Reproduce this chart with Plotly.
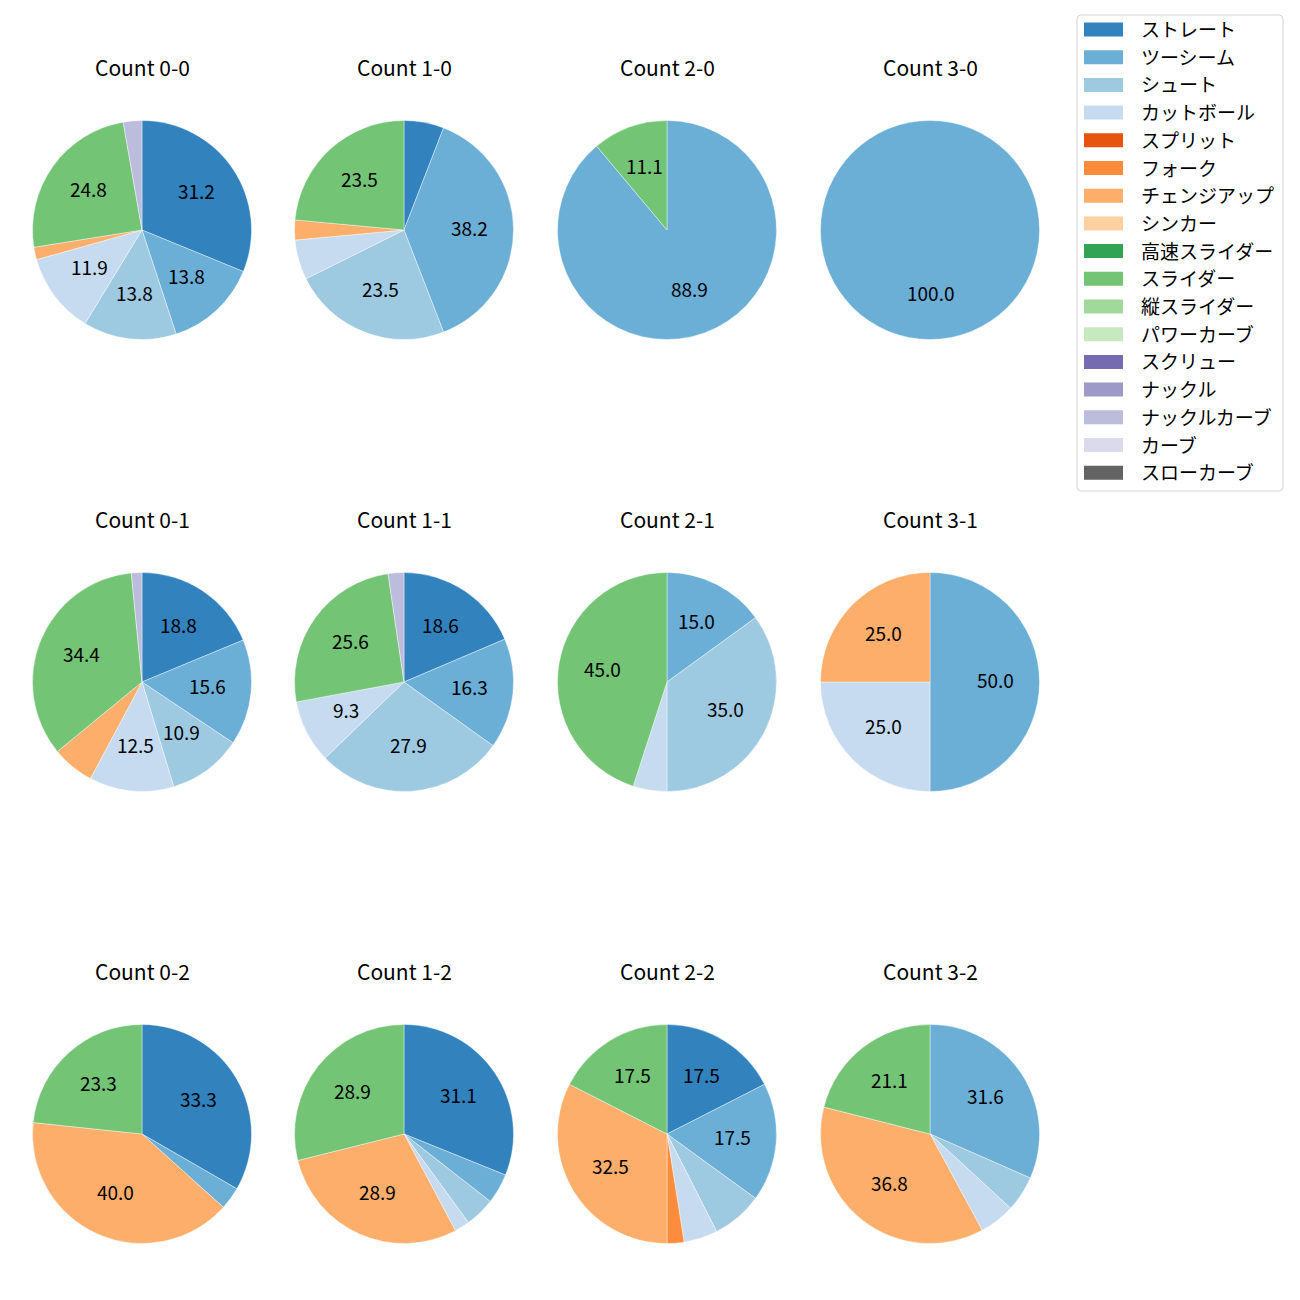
import math
import plotly.graph_objects as go

pitch_types = ["ストレート", "ツーシーム", "シュート", "カットボール", "スプリット", "フォーク",
               "チェンジアップ", "シンカー", "高速スライダー", "スライダー", "縦スライダー",
               "パワーカーブ", "スクリュー", "ナックル", "ナックルカーブ", "カーブ", "スローカーブ"]
colors = ["#3182bd", "#6baed6", "#9ecae1", "#c6dbef", "#e6550d", "#fd8d3c",
          "#fdae6b", "#fdd0a2", "#31a354", "#74c476", "#a1d99b", "#c7e9c0",
          "#756bb1", "#9e9ac8", "#bcbddc", "#dadaeb", "#636363"]

# pitch counts per ball-strike count, in pitch_types order
counts = ["0-0", "1-0", "2-0", "3-0",
          "0-1", "1-1", "2-1", "3-1",
          "0-2", "1-2", "2-2", "3-2"]
c_0_0 = [34, 15, 15, 13, 0, 0, 2, 0, 0, 27, 0, 0, 0, 0, 3, 0, 0]
c_1_0 = [2, 13, 8, 2, 0, 0, 1, 0, 0, 8, 0, 0, 0, 0, 0, 0, 0]
c_2_0 = [0, 8, 0, 0, 0, 0, 0, 0, 0, 1, 0, 0, 0, 0, 0, 0, 0]
c_3_0 = [0, 1, 0, 0, 0, 0, 0, 0, 0, 0, 0, 0, 0, 0, 0, 0, 0]
c_0_1 = [12, 10, 7, 8, 0, 0, 4, 0, 0, 22, 0, 0, 0, 0, 1, 0, 0]
c_1_1 = [8, 7, 12, 4, 0, 0, 0, 0, 0, 11, 0, 0, 0, 0, 1, 0, 0]
c_2_1 = [0, 3, 7, 1, 0, 0, 0, 0, 0, 9, 0, 0, 0, 0, 0, 0, 0]
c_3_1 = [0, 2, 0, 1, 0, 0, 1, 0, 0, 0, 0, 0, 0, 0, 0, 0, 0]
c_0_2 = [10, 1, 0, 0, 0, 0, 12, 0, 0, 7, 0, 0, 0, 0, 0, 0, 0]
c_1_2 = [14, 2, 2, 1, 0, 0, 13, 0, 0, 13, 0, 0, 0, 0, 0, 0, 0]
c_2_2 = [7, 7, 3, 2, 0, 1, 13, 0, 0, 7, 0, 0, 0, 0, 0, 0, 0]
c_3_2 = [0, 6, 1, 1, 0, 0, 7, 0, 0, 4, 0, 0, 0, 0, 0, 0, 0]
all_counts = [c_0_0, c_1_0, c_2_0, c_3_0, c_0_1, c_1_1, c_2_1, c_3_1,
              c_0_2, c_1_2, c_2_2, c_3_2]

W = H = 1300
OFF = 8  # page body margin
col_cx = [142, 404, 667, 930]
row_cy = [230, 682, 1134]
R = 109.5
FONT = "Noto Sans CJK JP"


def px(x):
    return (x - OFF) / W


def py(y):
    return 1 - (y - OFF) / H


fig = go.Figure()
annotations = []
shapes = []
for i, (name, vals) in enumerate(zip(counts, all_counts)):
    r, c = divmod(i, 4)
    cx, cy = col_cx[c], row_cy[r]
    labs, vs, cols = [], [], []
    tot = sum(vals)
    cum = 0.0
    for lab, v, col in zip(pitch_types, vals, colors):
        if v > 0:
            labs.append(lab); vs.append(v); cols.append(col)
            frac = v / tot
            mid = cum + frac / 2
            cum += frac
            if frac * 100 >= 8:
                th = 2 * math.pi * mid
                annotations.append(dict(
                    text=f"{frac * 100:.1f}",
                    x=px(cx + 0.6 * R * math.sin(th)), y=py(cy - 0.6 * R * math.cos(th)),
                    xref="paper", yref="paper", showarrow=False,
                    xanchor="center", yanchor="middle", yshift=3,
                    font=dict(size=19, color="black", family=FONT)))
    fig.add_trace(go.Pie(
        labels=labs, values=vs, textinfo="none",
        marker=dict(colors=cols, line=dict(color="white", width=0.4)),
        sort=False, direction="clockwise", rotation=0,
        showlegend=False, hoverinfo="label+percent",
        domain=dict(x=[px(cx - R), px(cx + R)], y=[py(cy + R), py(cy - R)]),
    ))
    annotations.append(dict(
        text=f"Count {name}", x=px(cx), y=py(cy - 161),
        xref="paper", yref="paper", showarrow=False, yshift=2,
        font=dict(size=21, color="black", family=FONT),
        xanchor="center", yanchor="middle"))

# legend (matplotlib style, rounded frame)
bx0, bx1, by0, by1, rr = 1077, 1283, 15, 491, 4
path = (f"M {px(bx0 + rr)},{py(by0)} L {px(bx1 - rr)},{py(by0)} "
        f"Q {px(bx1)},{py(by0)} {px(bx1)},{py(by0 + rr)} "
        f"L {px(bx1)},{py(by1 - rr)} Q {px(bx1)},{py(by1)} {px(bx1 - rr)},{py(by1)} "
        f"L {px(bx0 + rr)},{py(by1)} Q {px(bx0)},{py(by1)} {px(bx0)},{py(by1 - rr)} "
        f"L {px(bx0)},{py(by0 + rr)} Q {px(bx0)},{py(by0)} {px(bx0 + rr)},{py(by0)} Z")
shapes.append(dict(type="path", path=path, xref="paper", yref="paper",
                   line=dict(color="#d5d5d5", width=1), fillcolor="white", layer="below"))
lx0, ly0, step = 1084, 29.5, 27.7
for k, (lab, col) in enumerate(zip(pitch_types, colors)):
    y = ly0 + k * step
    shapes.append(dict(type="rect", xref="paper", yref="paper",
                       x0=px(lx0), x1=px(lx0 + 39),
                       y0=py(y + 7), y1=py(y - 7),
                       line=dict(width=0), fillcolor=col))
    annotations.append(dict(text=lab, x=px(1141 - 2), y=py(y), xref="paper", yref="paper",
                            showarrow=False, xanchor="left", yanchor="middle", yshift=1,
                            font=dict(size=19, color="black", family=FONT)))

fig.update_layout(width=W, height=H, margin=dict(l=0, r=0, t=0, b=0),
                  paper_bgcolor="white", plot_bgcolor="white",
                  annotations=annotations, shapes=shapes,
                  font=dict(family=FONT))
fig.write_html("out.html")
